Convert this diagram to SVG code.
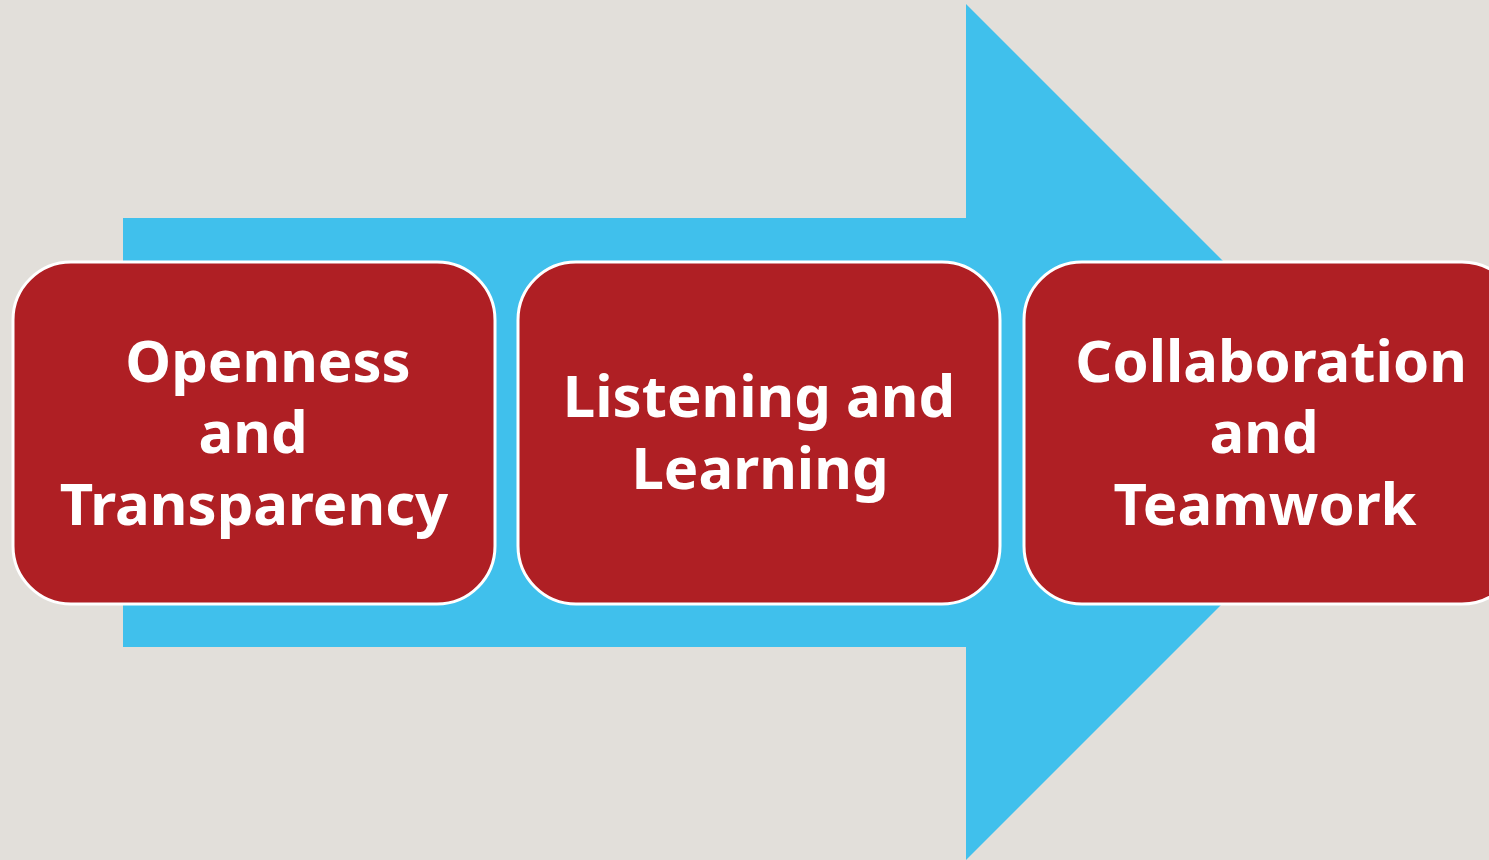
<svg xmlns="http://www.w3.org/2000/svg" width="1489" height="860" viewBox="0 0 1489 860">
<style>
.box{fill:#AF1F24;stroke:#FFFFFF;stroke-width:3}
.lbl{font-family:"Noto Sans","Open Sans",sans-serif;font-weight:700;font-size:58px;fill:#FFFFFF;text-anchor:middle}
</style>
<rect width="1489" height="860" fill="#E2DFDA"/>
<g id="arrow">
<polygon points="123,218 966,218 966,4 1394,432 966,860 966,647 123,647" fill="#40C0EC"/>
</g>
<g id="node1">
<rect class="box" x="13" y="262" width="482" height="342" rx="58" ry="58"/>
<text class="lbl"><tspan x="268" y="382">Openness</tspan><tspan x="253" y="453">and</tspan><tspan x="254" y="525">Transparency</tspan></text>
</g>
<g id="node2">
<rect class="box" x="518" y="262" width="482" height="342" rx="58" ry="58"/>
<text class="lbl"><tspan x="759" y="417">Listening and</tspan><tspan x="760" y="489">Learning</tspan></text>
</g>
<g id="node3">
<rect class="box" x="1024" y="262" width="496" height="342" rx="58" ry="58"/>
<text class="lbl"><tspan x="1271" y="382">Collaboration</tspan><tspan x="1264" y="453">and</tspan><tspan x="1265" y="525">Teamwork</tspan></text>
</g>
</svg>
